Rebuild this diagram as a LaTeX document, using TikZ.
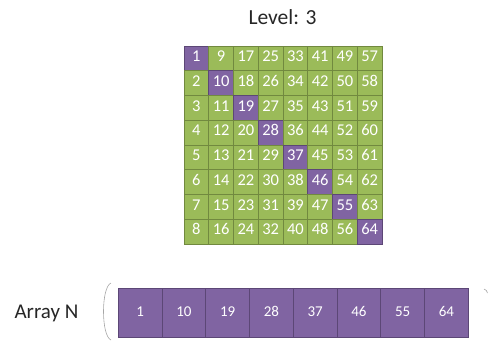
\documentclass[tikz,border=0pt]{standalone}
\usepackage{fontspec}
\setmainfont{Carlito}
\definecolor{cgreen}{HTML}{9BBB59}
\definecolor{cgreenD}{HTML}{71893F}
\definecolor{cpurp}{HTML}{8064A2}
\definecolor{cpurpD}{HTML}{5C4776}
\begin{document}
\begin{tikzpicture}[x=1pt,y=-1pt,
  gcell/.style={draw=cgreenD,fill=cgreen,line width=0.8pt,minimum width=24.75pt,minimum height=24.75pt,inner sep=0pt,text=white,font=\fontsize{16.5}{16.5}\selectfont,text height=0.63em,text depth=0pt,anchor=center},
  pcell/.style={gcell,draw=cpurpD,fill=cpurp},
  acell/.style={draw=cpurpD,fill=cpurp,line width=0.8pt,minimum width=44pt,minimum height=49.5pt,inner sep=0pt,text=white,font=\fontsize{15}{15}\selectfont,text height=0.63em,text depth=0pt,anchor=center},
  lbl/.style={font=\fontsize{21.5}{21.5}\selectfont,text=black!85}]
\useasboundingbox (0,0) rectangle (489,341);
\node[lbl] (title) at (282.5,17) {Level: 3};
\foreach \c in {0,...,7}{
  \foreach \r in {0,...,7}{
    \pgfmathtruncatemacro{\v}{\c*8+\r+1}
    \ifnum\c=\r
      \node[pcell] (g\c\r) at ({184+24.75*(\c+0.5)},{46+24.75*(\r+0.5)}) {\v};
    \else
      \node[gcell] (g\c\r) at ({184+24.75*(\c+0.5)},{46+24.75*(\r+0.5)}) {\v};
    \fi
  }
}
\node[lbl,font=\fontsize{21}{21}\selectfont] (arr) at (46.5,313) {Array N};
\foreach \i/\v in {0/1,1/10,2/19,3/28,4/37,5/46,6/55,7/64}{
  \node[acell] (a\i) at ({118.3+43.75*(\i+0.5)},313) {\v};
}
\draw[gray!70,line width=0.6pt] (111,283) .. controls (101,287) and (101,336) .. (111,340);
\draw[gray!70,line width=0.6pt] (484,289) .. controls (486,289.5) and (487,291) .. (487.5,293);
\end{tikzpicture}
\end{document}
